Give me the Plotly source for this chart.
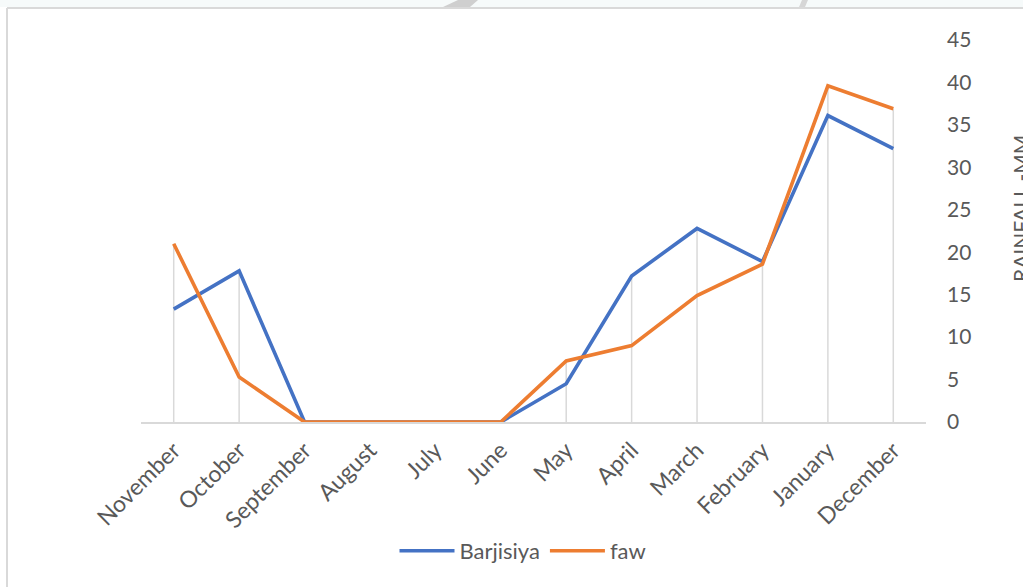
import plotly.graph_objects as go

months = ["November", "October", "September", "August", "July", "June",
          "May", "April", "March", "February", "January", "December"]
barjisiya = [13.3, 17.8, 0, 0, 0, 0, 4.5, 17.2, 22.8, 18.9, 36.1, 32.2]
faw = [21.0, 5.3, 0, 0, 0, 0, 7.2, 9.0, 14.9, 18.6, 39.6, 36.9]
y_ticks = [0, 5, 10, 15, 20, 25, 30, 35, 40, 45]

W, H = 1023, 587
L, R, T, B = 141, 97, 40, 165
FONT = "Lato"
TXT = "#595959"
GRID = "#d9d9d9"
FS = 21

def px_x(p):
    return (p - L) / (W - L - R)

def px_y(p):
    return (H - B - p) / (H - T - B)

# drop lines from 0 up to the highest series value at each category
dx, dy = [], []
for m, b, f in zip(months, barjisiya, faw):
    dx += [m, m, None]
    dy += [0, max(b, f), None]

fig = go.Figure()
fig.add_trace(go.Scatter(x=dx, y=dy, mode="lines", line=dict(color=GRID, width=1.5),
                         showlegend=False, hoverinfo="skip", cliponaxis=False))
fig.add_trace(go.Scatter(x=months, y=barjisiya, mode="lines", name="Barjisiya",
                         line=dict(color="#4472C4", width=3.6), cliponaxis=False))
fig.add_trace(go.Scatter(x=months, y=faw, mode="lines", name="faw",
                         line=dict(color="#ED7D31", width=3.6), cliponaxis=False))

fig.update_layout(
    width=W, height=H,
    margin=dict(l=L, r=R, t=T, b=B, autoexpand=False),
    paper_bgcolor="white", plot_bgcolor="white",
    font=dict(family=FONT, size=FS, color=TXT),
    showlegend=True,
    legend=dict(orientation="h", x=px_x(523), y=px_y(551), xanchor="center", yanchor="middle",
                itemwidth=55, font=dict(size=22, color=TXT), bgcolor="rgba(0,0,0,0)",
                traceorder="normal"),
    xaxis=dict(type="category", categoryorder="array", categoryarray=months,
               range=[-0.5, len(months) - 0.5], showgrid=False, zeroline=False,
               showline=True, linecolor=GRID, linewidth=1.5, layer="below traces",
               tickangle=-45, ticks="", ticklabelstandoff=4,
               tickfont=dict(size=23, color=TXT)),
    yaxis=dict(range=[0, 45], side="right", tickvals=y_ticks, ticktext=[str(v) for v in y_ticks],
               showgrid=False, zeroline=False, showline=False, ticks="",
               ticklabelstandoff=20, tickfont=dict(size=FS, color=TXT)),
    annotations=[dict(text="RAINFALL -MM", textangle=-90, xref="paper", yref="paper",
                      x=px_x(1020), y=px_y(209), xanchor="center", yanchor="middle",
                      showarrow=False, font=dict(size=FS, color=TXT))],
    shapes=[
        dict(type="rect", xref="paper", yref="paper", x0=px_x(0), x1=px_x(W), y0=px_y(0), y1=px_y(7),
             fillcolor="#f6fafa", line=dict(width=0), layer="below"),
        dict(type="path", xref="paper", yref="paper",
             path=f"M {px_x(443)},{px_y(7)} L {px_x(458)},{px_y(0)} L {px_x(478)},{px_y(0)} L {px_x(470)},{px_y(7)} Z",
             fillcolor="#cfcfcf", line=dict(width=0), layer="below"),
        dict(type="path", xref="paper", yref="paper",
             path=f"M {px_x(799)},{px_y(7)} L {px_x(802)},{px_y(0)} L {px_x(808)},{px_y(0)} L {px_x(805)},{px_y(7)} Z",
             fillcolor="#d6d6d6", line=dict(width=0), layer="below"),
        dict(type="line", xref="paper", yref="paper", x0=px_x(7), x1=px_x(W + 5), y0=px_y(8), y1=px_y(8),
             line=dict(color=GRID, width=2)),
        dict(type="line", xref="paper", yref="paper", x0=px_x(7), x1=px_x(7), y0=px_y(8), y1=px_y(H + 5),
             line=dict(color=GRID, width=2)),
    ],
)

fig.write_html("out.html")
